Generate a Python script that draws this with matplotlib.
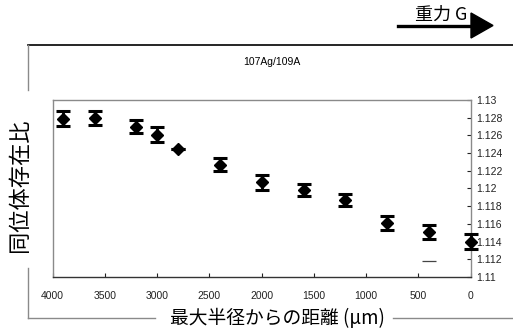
import matplotlib
matplotlib.use("Agg")
import matplotlib.pyplot as plt
from matplotlib.lines import Line2D
from matplotlib.patches import Polygon

# ---- data ----
distance = [3900, 3600, 3200, 3000, 2800, 2400, 2000, 1600, 1200, 800, 400, 0]
ratio = [1.1279, 1.1280, 1.1270, 1.1261, 1.1245, 1.1227, 1.1207, 1.1198, 1.1187, 1.1161, 1.1151, 1.1140]
err = [0.00087, 0.00077, 0.00073, 0.0008, 0.0, 0.00071, 0.00085, 0.00066, 0.00068, 0.00083, 0.00081, 0.00081]
dash_x = [400]
dash_y = [1.1118]
xticks = [4000, 3500, 3000, 2500, 2000, 1500, 1000, 500, 0]
yticks = [1.11, 1.112, 1.114, 1.116, 1.118, 1.12, 1.122, 1.124, 1.126, 1.128, 1.13]
ytick_labels = ["1.11", "1.112", "1.114", "1.116", "1.118", "1.12", "1.122", "1.124", "1.126", "1.128", "1.13"]
title = "107Ag/109A"
xlabel = "最大半径からの距離 (μm)"
ylabel = "同位体存在比"
gravity = "重力 G"

CJK = ["Noto Sans CJK JP", "DejaVu Sans"]
NUM = ["Liberation Sans", "DejaVu Sans"]

W, H = 513, 335
fig = plt.figure(figsize=(W / 100, H / 100), dpi=100)
fig.patch.set_facecolor("white")

def fx(px):
    return px / W

def fy(py):
    return 1 - py / H

ax = fig.add_axes([fx(52.7), fy(277), fx(470.7) - fx(52.7), fy(100) - fy(277)])
eb = ax.errorbar(distance, ratio, yerr=err, fmt="D", color="black", ms=6,
                 ecolor="black", elinewidth=2.0, capsize=4.8, capthick=2.2, zorder=3)
for art in [eb[0], *eb[1], *eb[2]]:
    art.set_clip_on(False)
ax.plot(dash_x, dash_y, marker="_", ms=10, mew=0.9, color="#444444", ls="none")

ax.set_xlim(4000, 0)
ax.set_ylim(1.11, 1.13)
ax.set_xticks(xticks)
ax.set_xticklabels([str(t) for t in xticks], fontfamily=NUM, fontsize=7.5)
ax.set_yticks(yticks)
ax.set_yticklabels(ytick_labels, fontfamily=NUM, fontsize=7.5)
ax.yaxis.tick_right()
ax.tick_params(axis="x", direction="in", length=3, width=0.8, pad=10, colors="#222222")
ax.tick_params(axis="y", direction="in", length=3, width=0.8, pad=4, colors="#222222")
for s in ["left", "top", "right"]:
    ax.spines[s].set_color("#8a8a8a")
    ax.spines[s].set_linewidth(1.0)
ax.spines["bottom"].set_color("#333333")
ax.spines["bottom"].set_linewidth(1.0)

# title and labels
fig.text(fx(272), fy(62), title, ha="center", va="center", fontsize=7.5, fontfamily=NUM)
fig.text(fx(277), fy(319), xlabel, ha="center", va="center", fontsize=13.5, fontfamily=CJK)
fig.text(fx(20), fy(185), ylabel, ha="center", va="center", rotation=90, fontsize=16, fontfamily=CJK)

# outer frame with gaps for labels
segs = [
    ((28, 45), (513, 45), "black", 1.2),
    ((28, 45), (28, 90), "#8a8a8a", 1.0),
    ((28, 268), (28, 318), "#8a8a8a", 1.0),
    ((28, 318), (155, 318), "#8a8a8a", 1.0),
    ((393, 318), (513, 318), "#8a8a8a", 1.0),
]
for (x0, y0), (x1, y1), c, lw in segs:
    fig.add_artist(Line2D([fx(x0), fx(x1)], [fy(y0), fy(y1)], color=c, lw=lw,
                          transform=fig.transFigure))

# gravity arrow
fig.text(fx(441), fy(15), gravity, ha="center", va="center", fontsize=13, fontfamily=CJK)
fig.add_artist(Line2D([fx(398), fx(473)], [fy(26), fy(26)], color="black", lw=2.4,
                      transform=fig.transFigure))
fig.add_artist(Polygon([[fx(471), fy(13)], [fx(471), fy(38)], [fx(493), fy(25.5)]],
                       closed=True, color="black", transform=fig.transFigure))

fig.savefig("out.png", dpi=100)
